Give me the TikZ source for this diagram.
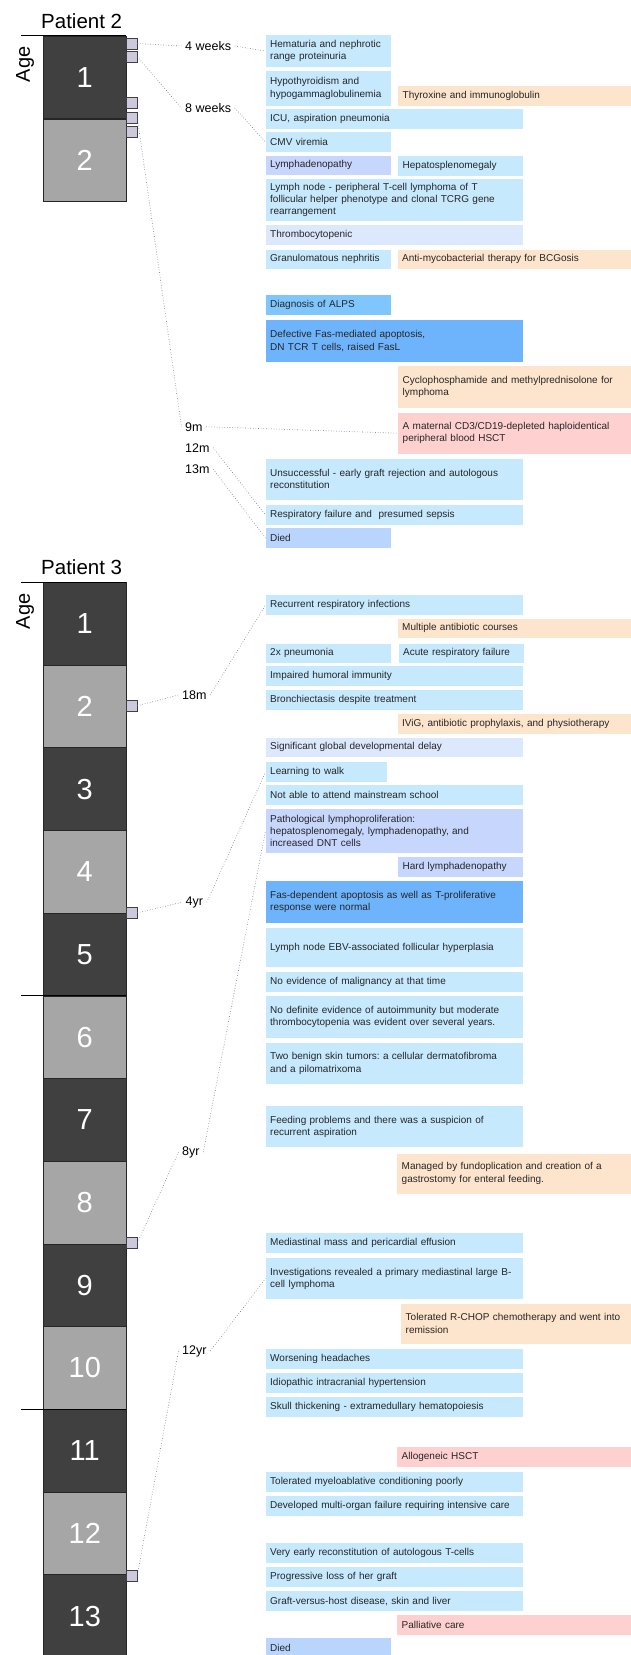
\documentclass[tikz,border=0pt]{standalone}
\usepackage{fontspec}
\setmainfont{Liberation Sans}
\frenchspacing

\definecolor{evblue}{RGB}{198,233,253}
\definecolor{evtreat}{RGB}{253,228,204}
\definecolor{evhsct}{RGB}{254,208,208}
\definecolor{evlymph}{RGB}{199,214,252}
\definecolor{evpale}{RGB}{220,232,252}
\definecolor{evalps}{RGB}{128,198,254}
\definecolor{evfas}{RGB}{110,180,252}
\definecolor{evdied}{RGB}{185,213,253}
\definecolor{yrdark}{RGB}{64,64,64}
\definecolor{yrlight}{RGB}{166,166,166}
\definecolor{sqfill}{RGB}{205,200,222}
\definecolor{linkgray}{RGB}{95,112,140}

\begin{document}
\begin{tikzpicture}[x=1pt, y=-1pt]
      \tikzset{
        ev/.style={anchor=north west, inner xsep=4.5pt, inner ysep=0pt,
          minimum height=19.7pt, align=left, text=black!85,
          font=\fontsize{10}{12.3}\selectfont},
        narrow/.style={ev, text width=116.5pt},
        wide/.style={ev, text width=248.5pt},
        side/.style={ev, text width=233pt},
        sidenarrow/.style={ev, text width=116pt},
        yrbox/.style={anchor=north west, minimum width=83pt, minimum height=82.7pt,
          inner sep=0pt, draw=black!85, line width=0.6pt, text=white,
          font=\fontsize{29}{30}\selectfont},
        tickbox/.style={anchor=west, draw=black!75, fill=sqfill, minimum size=11pt,
          inner sep=0pt, line width=0.6pt},
        agelbl/.style={anchor=west, inner sep=3.5pt, font=\fontsize{12.5}{14}\selectfont},
        title/.style={anchor=base west, inner sep=0pt, font=\fontsize{20.5}{24}\selectfont},
        agetxt/.style={rotate=90, inner sep=0pt, font=\fontsize{20}{24}\selectfont},
        link/.style={draw=linkgray, line width=0.6pt, dotted},
      }
      \useasboundingbox (0,0) rectangle (630,1655);

      % ---------- Patient 2 ----------
      \node[title] (p2) at (41,28.3) {Patient 2};
      \node[agetxt] (p2age) at (25,64.5) {Age};
      \foreach \n/\c in {1/yrdark,2/yrlight}
        \node[yrbox, fill=\c] (p2y\n) at (43,{35.5+(\n-1)*83}) {\n};
      \draw[line width=1pt] (21,35.5) -- (125.7,35.5);

      \node[tickbox] (s1) at (125.7,43.5) {};
      \node[tickbox] (s2) at (125.7,56.8) {};
      \node[tickbox] (s3) at (125.7,103) {};
      \node[tickbox] (s4) at (125.7,117.8) {};
      \node[tickbox] (s5) at (125.7,132.2) {};

      \node[agelbl] (l4w) at (181.5,46) {4 weeks};
      \node[agelbl] (l8w) at (181.5,108) {8 weeks};
      \node[agelbl] (l9m) at (181.5,426.7) {9m};
      \node[agelbl] (l12m) at (181.5,447.7) {12m};
      \node[agelbl] (l13m) at (181.5,469.3) {13m};

      \node[narrow, fill=evblue, minimum height=31.7pt] (a1) at (265.5,35)
        {Hematuria and nephrotic\\range proteinuria};
      \node[narrow, fill=evblue, minimum height=34.7pt] (a2) at (265.5,71)
        {Hypothyroidism and\\hypogammaglobulinemia};
      \node[side, fill=evtreat] (a3) at (398,86) {Thyroxine and immunoglobulin};
      \node[wide, fill=evblue] (a4) at (265.5,109) {ICU, aspiration pneumonia};
      \node[narrow, fill=evblue] (a5) at (265.5,132) {CMV viremia};
      \node[narrow, fill=evlymph] (a6) at (265.5,155.3) {Lymphadenopathy};
      \node[sidenarrow, fill=evblue] (a7) at (398,155.6) {Hepatosplenomegaly};
      \node[wide, fill=evblue, minimum height=41.7pt] (a8) at (265.5,179)
        {Lymph node - peripheral T-cell lymphoma of T\\follicular helper phenotype and clonal TCRG gene\\rearrangement};
      \node[wide, fill=evpale] (a9) at (265.5,225) {Thrombocytopenic};
      \node[narrow, fill=evblue] (a10) at (265.5,249.3) {Granulomatous nephritis};
      \node[side, fill=evtreat] (a11) at (397.5,249.3) {Anti-mycobacterial therapy for BCGosis};
      \node[narrow, fill=evalps] (a12) at (265.5,295) {Diagnosis of ALPS};
      \node[wide, fill=evfas, minimum height=41.7pt] (a13) at (265.5,320)
        {Defective Fas-mediated apoptosis,\\DN TCR T cells, raised FasL};
      \node[side, fill=evtreat, minimum height=41.7pt] (a14) at (398,366)
        {Cyclophosphamide and methylprednisolone for\\lymphoma};
      \node[side, fill=evhsct, minimum height=41.4pt] (a15) at (398,412.3)
        {A maternal CD3/CD19-depleted haploidentical\\peripheral blood HSCT};
      \node[wide, fill=evblue, minimum height=41.4pt] (a16) at (265.5,458.3)
        {Unsuccessful - early graft rejection and autologous\\reconstitution};
      \node[wide, fill=evblue] (a17) at (265.5,505) {Respiratory failure and\ \ presumed sepsis};
      \node[narrow, fill=evdied] (a18) at (265.5,528) {Died};

      \draw[link]
        (s1.east) -- (l4w.west)
        (l4w.east) -- (a1.west)
        (s2.east) -- (l8w.west)
        (l8w.east) -- (a5.west)
        (s4.east) -- (l9m.west)
        (l9m.east) -- (a15.west)
        (l12m.east) -- (a17.west)
        (l13m.east) -- (a18.west);

      % ---------- Patient 3 ----------
      \node[title] (p3) at (41,574) {Patient 3};
      \node[agetxt] (p3age) at (25,611.5) {Age};
      \foreach \n/\c in {1/yrdark,2/yrlight,3/yrdark,4/yrlight,5/yrdark,6/yrlight,7/yrdark,
                         8/yrlight,9/yrdark,10/yrlight,11/yrdark,12/yrlight,13/yrdark}
        \node[yrbox, fill=\c] (p3y\n) at (43,{582+(\n-1)*82.7}) {\n};
      \foreach \t in {582,995.5,1409}
        \draw[line width=1pt] (21,\t) -- (125.7,\t);

      \node[tickbox] (t1) at (125.7,705.7) {};
      \node[tickbox] (t2) at (125.7,912.8) {};
      \node[tickbox] (t3) at (125.7,1243.2) {};
      \node[tickbox] (t4) at (125.7,1575.3) {};

      \node[agelbl] (l18m) at (178.5,695) {18m};
      \node[agelbl] (l4yr) at (182,902.3) {4yr};
      \node[agelbl] (l8yr) at (178.5,1152) {8yr};
      \node[agelbl] (l12yr) at (178.5,1351) {12yr};

      \node[wide, fill=evblue] (b1) at (265.5,595) {Recurrent respiratory infections};
      \node[side, fill=evtreat] (b2) at (397.5,618.3) {Multiple antibiotic courses};
      \node[narrow, fill=evblue] (b3) at (265.5,643.3) {2x pneumonia};
      \node[sidenarrow, fill=evblue] (b4) at (398.5,643.3) {Acute respiratory failure};
      \node[wide, fill=evblue] (b5) at (265.5,666) {Impaired humoral immunity};
      \node[wide, fill=evblue] (b6) at (265.5,690) {Bronchiectasis despite treatment};
      \node[side, fill=evtreat] (b7) at (397.5,714) {IViG, antibiotic prophylaxis, and physiotherapy};
      \node[wide, fill=evpale] (b8) at (265.5,737.3) {Significant global developmental delay};
      \node[ev, text width=112.5pt, fill=evblue] (b9) at (265.5,762) {Learning to walk};
      \node[wide, fill=evblue] (b10) at (265.5,785) {Not able to attend mainstream school};
      \node[wide, fill=evlymph, minimum height=43.7pt] (b11) at (265.5,809)
        {Pathological lymphoproliferation:\\hepatosplenomegaly, lymphadenopathy, and\\increased DNT cells};
      \node[sidenarrow, fill=evlymph] (b12) at (398,857) {Hard lymphadenopathy};
      \node[wide, fill=evfas, minimum height=41.7pt] (b13) at (265.5,881)
        {Fas-dependent apoptosis as well as T-proliferative\\response were normal};
      \node[wide, fill=evblue, minimum height=38.7pt] (b14) at (265.5,928)
        {Lymph node EBV-associated follicular hyperplasia};
      \node[wide, fill=evblue] (b15) at (265.5,972) {No evidence of malignancy at that time};
      \node[wide, fill=evblue, minimum height=41.7pt] (b16) at (265.5,996)
        {No definite evidence of autoimmunity but moderate\\thrombocytopenia was evident over several years.};
      \node[wide, fill=evblue, minimum height=41pt] (b17) at (265.5,1042.7)
        {Two benign skin tumors: a cellular dermatofibroma\\and a pilomatrixoma};
      \node[wide, fill=evblue, minimum height=40.7pt] (b18) at (265.5,1106)
        {Feeding problems and there was a suspicion of\\recurrent aspiration};
      \node[side, fill=evtreat, minimum height=40pt] (b19) at (397,1153.3)
        {Managed by fundoplication and creation of a\\gastrostomy for enteral feeding.};
      \node[wide, fill=evblue] (b20) at (265.5,1233) {Mediastinal mass and pericardial effusion};
      \node[wide, fill=evblue, minimum height=40.7pt] (b21) at (265.5,1258)
        {Investigations revealed a primary mediastinal large B-\\cell lymphoma};
      \node[side, fill=evtreat, minimum height=40pt] (b22) at (401,1303.3)
        {Tolerated R-CHOP chemotherapy and went into\\remission};
      \node[wide, fill=evblue] (b23) at (265.5,1349) {Worsening headaches};
      \node[wide, fill=evblue] (b24) at (265.5,1373) {Idiopathic intracranial hypertension};
      \node[wide, fill=evblue] (b25) at (265.5,1397) {Skull thickening - extramedullary hematopoiesis};
      \node[side, fill=evhsct] (b26) at (397,1447) {Allogeneic HSCT};
      \node[wide, fill=evblue] (b27) at (265.5,1472) {Tolerated myeloablative conditioning poorly};
      \node[wide, fill=evblue] (b28) at (265.5,1496) {Developed multi-organ failure requiring intensive care};
      \node[wide, fill=evblue] (b29) at (265.5,1543) {Very early reconstitution of autologous T-cells};
      \node[wide, fill=evblue] (b30) at (265.5,1567) {Progressive loss of her graft};
      \node[wide, fill=evblue] (b31) at (265.5,1591) {Graft-versus-host disease, skin and liver};
      \node[side, fill=evhsct] (b32) at (397,1615) {Palliative care};
      \node[narrow, fill=evdied] (b33) at (265.5,1638) {Died};

      \draw[link]
        (t1.east) -- (l18m.west)
        (l18m.east) -- (b1.west)
        (t2.east) -- (l4yr.west)
        (l4yr.east) -- (b9.west)
        (l8yr.west) -- (t3.east)
        (l8yr.east) -- (b11.west)
        (l12yr.west) -- (t4.east)
        (l12yr.east) -- (b21.west);
\end{tikzpicture}
\end{document}
